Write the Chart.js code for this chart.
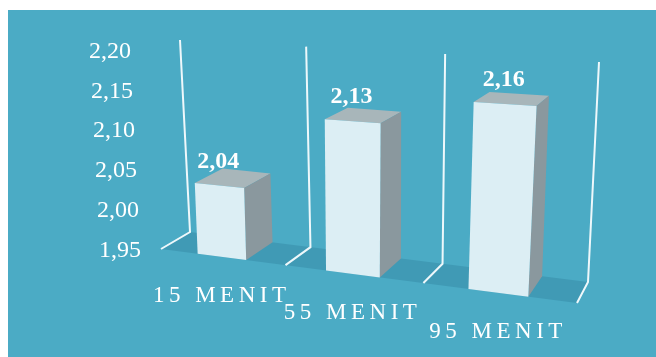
<!DOCTYPE html>
<html>
<head>
<meta charset="utf-8">
<title>Menit</title>
<script src="https://cdn.jsdelivr.net/npm/chart.js@4/dist/chart.umd.min.js"></script>
<style>
    html, body { margin: 0; padding: 0; background: #ffffff; }
    canvas { display: block; }
</style>
</head>
<body>
<canvas id="menit-chart" width="656" height="357"></canvas>
<script>
// Chart values
const categories = ['15 MENIT', '55 MENIT', '95 MENIT'];
const seriesValues = [2.04, 2.13, 2.16];
const valueLabels = ['2,04', '2,13', '2,16'];
const yTicks = [1.95, 2.00, 2.05, 2.10, 2.15, 2.20];
const yTickLabels = ['1,95', '2,00', '2,05', '2,10', '2,15', '2,20'];

const FONT = '"Liberation Serif", "Times New Roman", serif';

// Homography from the unit square to a quad: bottom-left, bottom-right, top-right, top-left
function quadProjection(p0, p1, p2, p3) {
    const dx1 = p1[0] - p2[0], dx2 = p3[0] - p2[0], sx = p0[0] - p1[0] + p2[0] - p3[0];
    const dy1 = p1[1] - p2[1], dy2 = p3[1] - p2[1], sy = p0[1] - p1[1] + p2[1] - p3[1];
    const den = dx1 * dy2 - dx2 * dy1;
    const g = (sx * dy2 - dx2 * sy) / den;
    const h = (dx1 * sy - sx * dy1) / den;
    const a = p1[0] - p0[0] + g * p1[0], b = p3[0] - p0[0] + h * p3[0];
    const d = p1[1] - p0[1] + g * p1[1], e = p3[1] - p0[1] + h * p3[1];
    return (u, v) => {
        const w = g * u + h * v + 1;
        return [(a * u + b * v + p0[0]) / w, (d * u + e * v + p0[1]) / w];
    };
}

// The back wall and the front plane of the perspective view
const backPlane = quadProjection([190, 232], [588, 282], [599, 62], [180, 40]);
const frontPlane = quadProjection([161, 249], [577, 303], [590, 70], [151, 49]);

function fillPolygon(ctx, points, color) {
    ctx.beginPath();
    points.forEach((p, i) => (i ? ctx.lineTo(p[0], p[1]) : ctx.moveTo(p[0], p[1])));
    ctx.closePath();
    ctx.fillStyle = color;
    ctx.fill();
}

// Replaces the flat bars with boxes, projecting the positions the scales give
const perspectivePlugin = {
    id: 'perspective',
    beforeDraw(chart) {
        const ctx = chart.ctx;
        ctx.save();
        ctx.fillStyle = '#4babc5';
        ctx.fillRect(8, 10, 648, 347);
        ctx.restore();
    },
    beforeDatasetsDraw(chart) {
        const ctx = chart.ctx;
        const area = chart.chartArea;
        const toU = px => (px - area.left) / area.width;
        const toV = py => (area.bottom - py) / area.height;

        ctx.save();

        // Floor
        fillPolygon(ctx, [backPlane(0, 0), backPlane(1, 0), frontPlane(1, 0), frontPlane(0, 0)], '#409ab5');

        // Wall lines at the category boundaries
        ctx.strokeStyle = '#eef8fb';
        ctx.lineWidth = 2;
        for (let i = 0; i <= categories.length; i++) {
            const u = i / categories.length;
            const top = backPlane(u, 1), corner = backPlane(u, 0), foot = frontPlane(u, 0);
            ctx.beginPath();
            ctx.moveTo(top[0], top[1]);
            ctx.lineTo(corner[0], corner[1]);
            ctx.lineTo(foot[0], foot[1]);
            ctx.stroke();
        }

        // Bars
        const meta = chart.getDatasetMeta(0);
        meta.data.forEach(bar => {
            const u0 = toU(bar.x - bar.width / 2), u1 = toU(bar.x + bar.width / 2);
            const v0 = toV(bar.base), v1 = toV(bar.y);
            fillPolygon(ctx, [backPlane(u0, v1), backPlane(u1, v1), frontPlane(u1, v1), frontPlane(u0, v1)], '#a8b6ba');
            fillPolygon(ctx, [frontPlane(u1, v0), frontPlane(u1, v1), backPlane(u1, v1), backPlane(u1, v0)], '#8a989e');
            fillPolygon(ctx, [frontPlane(u0, v0), frontPlane(u1, v0), frontPlane(u1, v1), frontPlane(u0, v1)], '#dceef4');
        });

        ctx.fillStyle = '#ffffff';
        ctx.textBaseline = 'alphabetic';

        // Values above the front face of each bar
        ctx.font = 'bold 24px ' + FONT;
        ctx.textAlign = 'center';
        meta.data.forEach((bar, i) => {
            const p = frontPlane(toU(bar.x), toV(bar.y));
            ctx.fillText(valueLabels[i], p[0] - 1, p[1] - 18);
        });

        // Y axis labels, stepping along the left edge of the front plane
        const yScale = chart.scales.y;
        ctx.font = '24px ' + FONT;
        ctx.textAlign = 'right';
        ctx.textBaseline = 'middle';
        yScale.ticks.forEach(tick => {
            const py = yScale.getPixelForValue(tick.value);
            ctx.fillText(tick.label, frontPlane(0, toV(py))[0] - 20, py + 1.5);
        });

        // Category labels below the front edge of the floor
        const xScale = chart.scales.x;
        ctx.font = '23px ' + FONT;
        ctx.textAlign = 'center';
        ctx.letterSpacing = '4.5px';
        categories.forEach((label, i) => {
            const p = frontPlane(toU(xScale.getPixelForTick(i)), 0);
            ctx.fillText(label, p[0], p[1] + 39);
        });

        ctx.restore();
        return false;
    }
};

new Chart(document.getElementById('menit-chart'), {
    type: 'bar',
    data: {
        labels: categories,
        datasets: [{
            data: seriesValues,
            base: yTicks[0],
            barPercentage: 0.39,
            categoryPercentage: 1
        }]
    },
    options: {
        responsive: false,
        animation: false,
        layout: { padding: { top: 50, bottom: 108, left: 60, right: 60 } },
        plugins: { legend: { display: false }, tooltip: { enabled: false } },
        scales: {
            x: { display: false },
            y: {
                display: false,
                min: yTicks[0],
                max: yTicks[yTicks.length - 1],
                afterBuildTicks: scale => {
                    scale.ticks = yTicks.map(value => ({ value }));
                },
                ticks: { callback: (value, i) => yTickLabels[i] }
            }
        }
    },
    plugins: [perspectivePlugin]
});
</script>
</body>
</html>
